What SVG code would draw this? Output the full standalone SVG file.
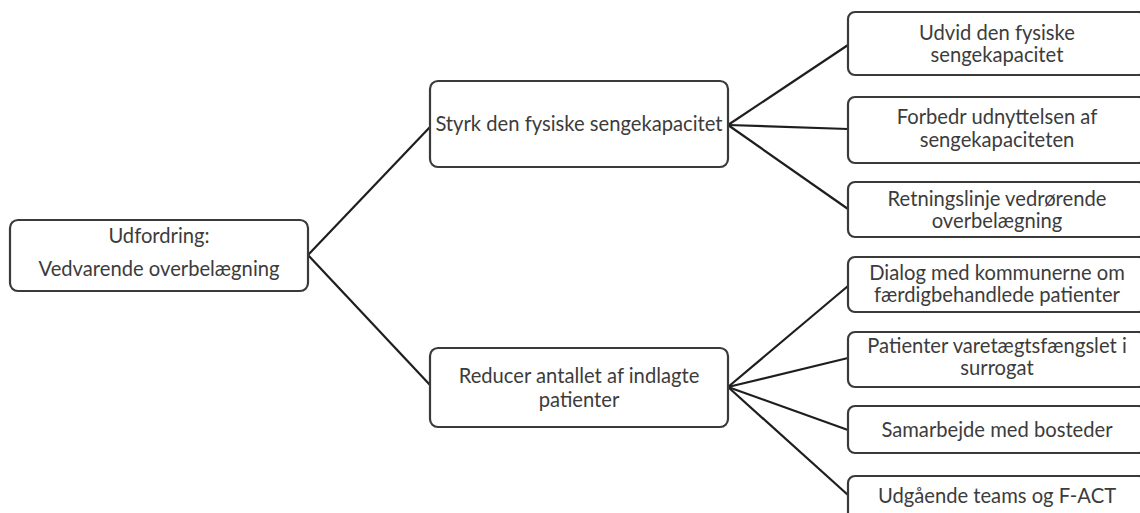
<svg xmlns="http://www.w3.org/2000/svg" width="1140" height="513" viewBox="0 0 1140 513">
<style>
.box{fill:#ffffff;stroke:#3a3a3a;stroke-width:2.2}
.t{font-family:Lato,"Liberation Sans",sans-serif;font-size:20.2px;fill:#3c3c3c;text-anchor:middle}
.c{stroke:#1e1e1e;stroke-width:2.2;fill:none}
</style>
<rect width="1140" height="513" fill="#ffffff"/>
<g id="connectors">
<line class="c" x1="308" y1="255" x2="430" y2="127"/>
<line class="c" x1="308" y1="255" x2="430" y2="385"/>
<line class="c" x1="728" y1="125" x2="848" y2="45"/>
<line class="c" x1="728" y1="125" x2="848" y2="129"/>
<line class="c" x1="728" y1="125" x2="848" y2="209"/>
<line class="c" x1="728" y1="387" x2="848" y2="286"/>
<line class="c" x1="728" y1="387" x2="848" y2="358"/>
<line class="c" x1="728" y1="387" x2="848" y2="430"/>
<line class="c" x1="728" y1="387" x2="848" y2="495"/>
</g>
<g id="root">
<rect class="box" x="10" y="220" width="298" height="71" rx="8"/>
<text class="t" x="159" y="243">Udfordring:</text>
<text class="t" x="159" y="276">Vedvarende overbelægning</text>
</g>
<g id="styrk">
<rect class="box" x="430" y="81" width="298" height="86" rx="8"/>
<text class="t" x="579" y="131">Styrk den fysiske sengekapacitet</text>
</g>
<g id="reducer">
<rect class="box" x="430" y="348" width="298" height="79" rx="8"/>
<text class="t" x="579" y="383">Reducer antallet af indlagte</text>
<text class="t" x="579" y="407">patienter</text>
</g>
<g id="udvid">
<rect class="box" x="848" y="12" width="298" height="63" rx="7"/>
<text class="t" x="997" y="40">Udvid den fysiske</text>
<text class="t" x="997" y="62">sengekapacitet</text>
</g>
<g id="forbedr">
<rect class="box" x="848" y="97" width="298" height="66" rx="7"/>
<text class="t" x="997" y="124">Forbedr udnyttelsen af</text>
<text class="t" x="997" y="147">sengekapaciteten</text>
</g>
<g id="retningslinje">
<rect class="box" x="848" y="182" width="298" height="55" rx="7"/>
<text class="t" x="997" y="206">Retningslinje vedrørende</text>
<text class="t" x="997" y="228">overbelægning</text>
</g>
<g id="dialog">
<rect class="box" x="848" y="257" width="298" height="55" rx="7"/>
<text class="t" x="997" y="280">Dialog med kommunerne om</text>
<text class="t" x="997" y="302">færdigbehandlede patienter</text>
</g>
<g id="patienter">
<rect class="box" x="848" y="332" width="298" height="55" rx="7"/>
<text class="t" x="997" y="353">Patienter varetægtsfængslet i</text>
<text class="t" x="997" y="375">surrogat</text>
</g>
<g id="samarbejde">
<rect class="box" x="848" y="406" width="298" height="47" rx="7"/>
<text class="t" x="997" y="437">Samarbejde med bosteder</text>
</g>
<g id="udgaaende">
<rect class="box" x="848" y="476" width="298" height="50" rx="7"/>
<text class="t" x="997" y="503">Udgående teams og F-ACT</text>
</g>
</svg>
